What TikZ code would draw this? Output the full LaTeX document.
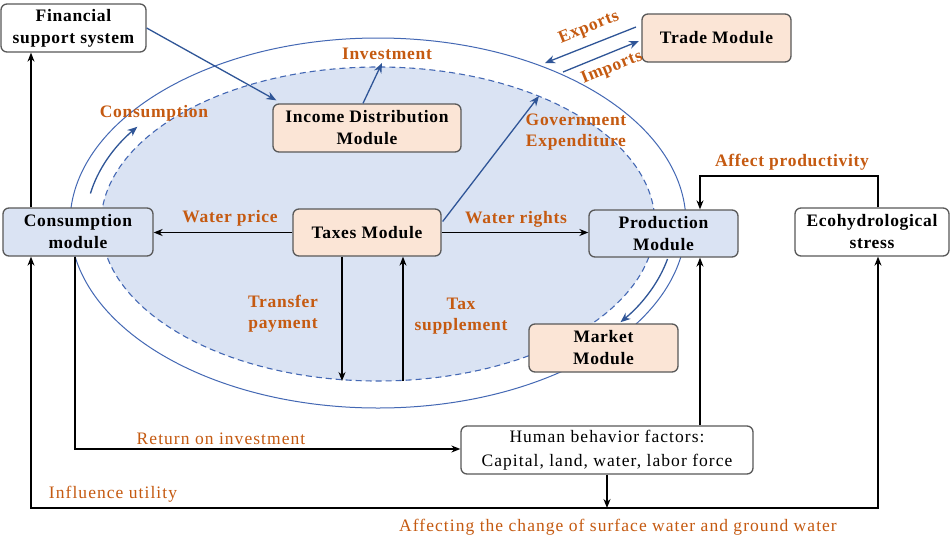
\documentclass[tikz,border=0pt]{standalone}
\usepackage{fontspec}
\setmainfont{Liberation Serif}
\usetikzlibrary{arrows.meta,calc}
\definecolor{lblue}{RGB}{218,227,243}
\definecolor{peach}{RGB}{251,229,214}
\definecolor{orng}{RGB}{197,90,17}
\definecolor{dblue}{RGB}{47,85,151}
\definecolor{ellc}{RGB}{68,104,180}
\definecolor{bord}{RGB}{89,89,89}
\begin{document}
\begin{tikzpicture}[x=1pt,y=-1pt,
 box/.style={draw=bord, line width=1.3pt, rounded corners=6pt, align=center, inner sep=1pt, font=\fontsize{17.5}{22}\selectfont\bfseries\addfontfeatures{LetterSpace=4}},
 lbl/.style={text=orng, font=\fontsize{17.5}{21}\selectfont\bfseries\addfontfeatures{LetterSpace=4}, align=center, inner sep=0pt},
 lblr/.style={text=orng, font=\fontsize{17.5}{21}\selectfont\addfontfeatures{LetterSpace=6}, align=center, inner sep=0pt},
 arr/.style={line width=1.3pt, -{Stealth[length=9pt,width=7pt]}},
 barr/.style={draw=dblue, line width=1.3pt, -{Stealth[length=10pt,width=8pt]}},
]
\useasboundingbox (0,0) rectangle (951,539);
\fill[white] (0,0) rectangle (951,539);
% ellipses
\coordinate (E) at (378,223);
\draw[ellc, line width=1pt] (E) ellipse [x radius=308pt, y radius=185pt];
\fill[lblue] (378,224) ellipse [x radius=277pt, y radius=157pt];
\draw[ellc, line width=1.1pt, dash pattern=on 6pt off 4pt] (378,224) ellipse [x radius=277pt, y radius=157pt];

% nodes
\node[box, fill=white, minimum width=145pt, minimum height=48pt] (fin) at (73.5,28) {Financial\\support system};
\node[box, fill=peach, minimum width=149pt, minimum height=48pt] (trade) at (716.5,38) {Trade Module};
\node[box, fill=peach, minimum width=188pt, minimum height=48pt] (inc) at (367,128) {Income Distribution\\Module};
\node[box, fill=peach, minimum width=148pt, minimum height=47pt] (tax) at (367,232.5) {Taxes Module};
\node[box, fill=lblue, minimum width=150pt, minimum height=48pt] (cons) at (78,232) {Consumption\\module};
\node[box, fill=lblue, minimum width=149pt, minimum height=47pt] (prod) at (663.5,233.5) {Production\\Module};
\node[box, fill=peach, minimum width=149pt, minimum height=48pt] (market) at (603.5,348) {Market\\Module};
\node[box, fill=white, minimum width=154pt, minimum height=48pt] (eco) at (872,232) {Ecohydrological\\stress};
\node[box, fill=white, minimum width=292pt, minimum height=48pt, font=\fontsize{17.5}{24}\selectfont\addfontfeatures{LetterSpace=6}] (human) at (607,450) {Human behavior factors:\\Capital, land, water, labor force};

% coordinates
\coordinate (inv) at (382,63);
\coordinate (gov) at (539,96);
\coordinate (exS) at (636,27);
\coordinate (exT) at (545,63);
\coordinate (imS) at (563,72);
\coordinate (imT) at (639,41);
\coordinate (L) at (31,508);
\coordinate (R) at (878,508);
\coordinate (RI) at (75,449);
\coordinate (P) at (700,176);
\coordinate (TD) at (342,381);
\coordinate (TU) at (403,381);

% blue arrows
\draw[barr] (fin.east) -- ($(inc.north west)+(4,-3)$);
\draw[barr] ($(inc.north)+(-4,0)$) -- (inv);
\draw[barr] ($(tax.east)+(1,-11)$) -- (gov);
\draw[barr] (exS) -- (exT);
\draw[barr] (imS) -- (imT);
\draw[barr] (E) ++(190:292 and 170) arc[start angle=190, end angle=214.5, x radius=292, y radius=170];
\draw[barr] (E) ++(12:296 and 173) arc[start angle=12, end angle=35, x radius=296, y radius=173];

% black arrows
\draw[arr] (tax.west) -- (tax.west -| cons.east);
\draw[arr] (tax.east) -- (tax.east -| prod.west);
\draw[arr] (tax.south -| TD) -- (TD);
\draw[arr] (TU) -- (tax.south -| TU);
\draw[arr] (cons.north -| L) -- (fin.south -| L);
\draw[arr, {Stealth[length=9pt,width=7pt]}-{Stealth[length=9pt,width=7pt]}] (cons.south -| L) -- (L) -- (R) -- (eco.south -| R);
\draw[arr] (human.south) -- (human.south |- L);
\draw[arr] (cons.south -| RI) -- (RI) -- (RI -| human.west);
\draw[arr] (human.north -| P) -- (prod.south -| P);
\draw[arr] (eco.north -| R) -- (R |- P) -- (P) -- (prod.north -| P);

% labels
\node[lbl] (lcons) at (154,113) {Consumption};
\node[lbl] (linv) at (387,54) {Investment};
\node[lbl, rotate=22] (lexp) at (589,28) {Exports};
\node[lbl, rotate=22] (limp) at (612,68) {Imports};
\node[lbl] (lgov) at (576,132) {Government\\Expenditure};
\node[lbl] (lwp) at (230,218) {Water price};
\node[lbl] (lwr) at (516,219) {Water rights};
\node[lbl] (ltp) at (283,314) {Transfer\\payment};
\node[lbl] (lts) at (461,316) {Tax\\supplement};
\node[lbl] (lap) at (792,162) {Affect productivity};
\node[lblr] (lri) at (221,439) {Return on investment};
\node[lblr] (liu) at (113,494) {Influence utility};
\node[lblr] (laf) at (618,527) {Affecting the change of surface water and ground water};
\end{tikzpicture}
\end{document}
